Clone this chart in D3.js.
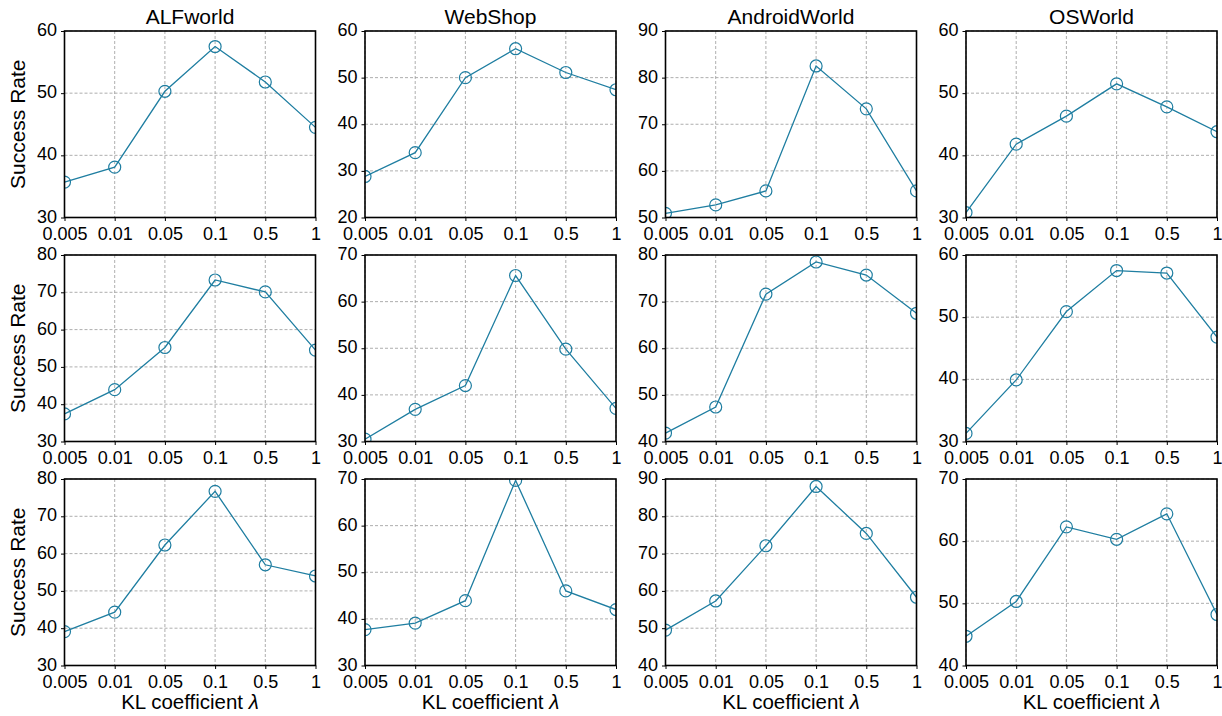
<!DOCTYPE html>
<html>
<head>
<meta charset="utf-8">
<script src="https://cdn.jsdelivr.net/npm/d3@7"></script>
<style>
  body { margin: 0; background: #fff; }
  svg text { font-family: "Liberation Sans", Arial, sans-serif; fill: #000; }
  .grid line { stroke: #999; stroke-width: 0.8; stroke-dasharray: 3,2; }
</style>
</head>
<body>
<div id="wrapper"></div>
<script>
const lambdas = ["0.005", "0.01", "0.05", "0.1", "0.5", "1"]
const envs = ["ALFworld", "WebShop", "AndroidWorld", "OSWorld"]

// success rate per row, one array per environment
const row1 = [
  [35.7, 38.1, 50.3, 57.5, 51.8, 44.5],
  [28.8, 33.9, 50.0, 56.2, 51.1, 47.4],
  [50.9, 52.7, 55.7, 82.5, 73.3, 55.7],
  [30.8, 41.8, 46.3, 51.5, 47.8, 43.8]
]
const row2 = [
  [37.4, 43.9, 55.2, 73.3, 70.1, 54.5],
  [30.5, 36.9, 42.0, 65.6, 49.8, 37.1],
  [41.8, 47.4, 71.6, 78.5, 75.7, 67.5],
  [31.3, 39.9, 50.9, 57.5, 57.1, 46.8]
]
const row3 = [
  [39.1, 44.3, 62.3, 76.7, 57.0, 54.0],
  [37.7, 39.1, 43.9, 69.7, 46.0, 42.0],
  [49.5, 57.3, 72.1, 88.0, 75.4, 58.3],
  [44.7, 50.3, 62.3, 60.3, 64.4, 48.2]
]
// y-axis ranges [min, max] per panel
const yRanges = [
  [[30, 60], [20, 60], [50, 90], [30, 60]],
  [[30, 80], [30, 70], [40, 80], [30, 60]],
  [[30, 80], [30, 70], [40, 90], [40, 70]]
]
const rows = [row1, row2, row3]

const color = "#1f7ea1"

const width = 1222
const height = 716
const panel = { left: 64.5, top: 31, width: 251, height: 186.5, dx: 300.5, dy: 224 }

const svg = d3.select("#wrapper")
  .append("svg")
    .attr("width", width)
    .attr("height", height)

rows.forEach((row, r) => {
  row.forEach((values, c) => {
    const x0 = panel.left + c * panel.dx
    const y0 = panel.top + r * panel.dy
    const g = svg.append("g")
      .attr("transform", `translate(${x0},${y0})`)

    const xScale = d3.scalePoint()
      .domain(lambdas)
      .range([0, panel.width])
      .padding(0)

    const [lo, hi] = yRanges[r][c]
    const yScale = d3.scaleLinear()
      .domain([lo, hi])
      .range([panel.height, 0])
    const yTicks = d3.range(lo, hi + 1, 10)

    // grid
    const grid = g.append("g").attr("class", "grid")
    grid.selectAll(".gx")
      .data(lambdas)
      .join("line")
        .attr("x1", d => xScale(d)).attr("x2", d => xScale(d))
        .attr("y1", 0).attr("y2", panel.height)
    grid.selectAll(".gy")
      .data(yTicks)
      .join("line")
        .attr("x1", 0).attr("x2", panel.width)
        .attr("y1", d => yScale(d)).attr("y2", d => yScale(d))

    const clipId = `clip-${r}-${c}`
    g.append("clipPath").attr("id", clipId)
      .append("rect")
        .attr("width", panel.width)
        .attr("height", panel.height)

    const plot = g.append("g").attr("clip-path", `url(#${clipId})`)
    const line = d3.line()
      .x((d, i) => xScale(lambdas[i]))
      .y(d => yScale(d))
    plot.append("path")
      .datum(values)
      .attr("fill", "none")
      .attr("stroke", color)
      .attr("stroke-width", 1.3)
      .attr("d", line)
    plot.selectAll("circle")
      .data(values)
      .join("circle")
        .attr("cx", (d, i) => xScale(lambdas[i]))
        .attr("cy", d => yScale(d))
        .attr("r", 6)
        .attr("fill", "none")
        .attr("stroke", color)
        .attr("stroke-width", 1.2)

    // axes
    const xAxis = g.append("g")
      .attr("transform", `translate(0,${panel.height})`)
      .call(d3.axisBottom(xScale).tickSize(3.5).tickPadding(6))
    const yAxis = g.append("g")
      .call(d3.axisLeft(yScale).tickValues(yTicks).tickFormat(d3.format("d")).tickSize(3.5).tickPadding(4))
    ;[xAxis, yAxis].forEach(a => {
      a.attr("font-size", null).attr("font-family", null)
      a.select(".domain").remove()
      a.selectAll(".tick line").attr("stroke", "#000").attr("stroke-width", 1)
      a.selectAll("text").style("font-size", "18px").attr("fill", "#000")
    })
    yAxis.selectAll("text").attr("dy", "0.25em")

    // frame
    g.append("rect")
      .attr("width", panel.width)
      .attr("height", panel.height)
      .attr("fill", "none")
      .attr("stroke", "#000")
      .attr("stroke-width", 1.6)

    if (r === 0) {
      g.append("text")
        .attr("x", panel.width / 2)
        .attr("y", -7)
        .attr("text-anchor", "middle")
        .style("font-size", "21px")
        .text(envs[c])
    }
    if (c === 0) {
      g.append("text")
        .attr("transform", `translate(${-40},${panel.height / 2}) rotate(-90)`)
        .attr("text-anchor", "middle")
        .style("font-size", "21px")
        .text("Success Rate")
    }
    if (r === rows.length - 1) {
      const t = g.append("text")
        .attr("x", panel.width / 2)
        .attr("y", panel.height + 43)
        .attr("text-anchor", "middle")
        .style("font-size", "20.5px")
      t.append("tspan").text("KL coefficient ")
      t.append("tspan").style("font-style", "italic").text("λ")
    }
  })
})
</script>
</body>
</html>
